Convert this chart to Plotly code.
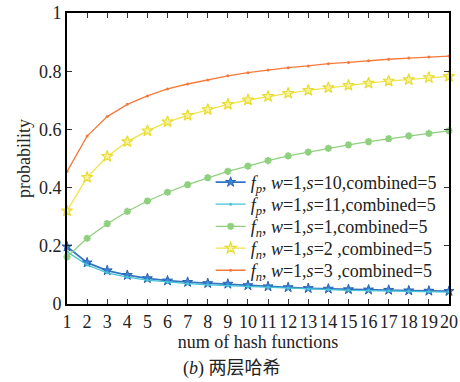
import plotly.graph_objects as go

x = list(range(1, 21))
fp_s10 = [0.197, 0.142, 0.115, 0.099, 0.088, 0.080, 0.075, 0.071, 0.069, 0.064,
          0.060, 0.057, 0.054, 0.052, 0.050, 0.049, 0.048, 0.046, 0.045, 0.044]
fp_s11 = [0.180, 0.134, 0.107, 0.092, 0.082, 0.075, 0.070, 0.066, 0.063, 0.060,
          0.057, 0.054, 0.051, 0.049, 0.047, 0.046, 0.045, 0.043, 0.042, 0.041]
fn_s1 = [0.162, 0.226, 0.276, 0.318, 0.354, 0.384, 0.410, 0.434, 0.456, 0.474,
         0.493, 0.509, 0.522, 0.535, 0.547, 0.558, 0.568, 0.578, 0.586, 0.595]
fn_s2 = [0.320, 0.435, 0.507, 0.558, 0.595, 0.626, 0.648, 0.668, 0.686, 0.701,
         0.713, 0.724, 0.734, 0.743, 0.751, 0.759, 0.766, 0.771, 0.778, 0.782]
fn_s3 = [0.455, 0.577, 0.644, 0.686, 0.715, 0.739, 0.756, 0.770, 0.784, 0.795,
         0.804, 0.812, 0.818, 0.826, 0.830, 0.836, 0.841, 0.845, 0.849, 0.852]

names = [
    "<i>f</i><sub><i>p</i></sub>, <i>w</i>=1,<i>s</i>=10,combined=5",
    "<i>f</i><sub><i>p</i></sub>, <i>w</i>=1,<i>s</i>=11,combined=5",
    "<i>f</i><sub><i>n</i></sub>, <i>w</i>=1,<i>s</i>=1,combined=5",
    "<i>f</i><sub><i>n</i></sub>, <i>w</i>=1,<i>s</i>=2 ,combined=5",
    "<i>f</i><sub><i>n</i></sub>, <i>w</i>=1,<i>s</i>=3 ,combined=5",
]
xticks = [str(i) for i in x]
yticks = [0, 0.2, 0.4, 0.6, 0.8, 1]
ytext = ["0", "0.2", "0.4", "0.6", "0.8", "1"]

FONT = "Liberation Serif, Times New Roman, DejaVu Serif, Noto Sans CJK SC, serif"

legend_ids = ["legend", "legend2", "legend3", "legend4", "legend5"]

fig = go.Figure()
fig.add_trace(go.Scatter(x=x, y=fp_s10, name=names[0], mode="lines+markers",
                         line=dict(color="#3475c4", width=1.8),
                         marker=dict(symbol="star", size=7.5, color="#3a86d8",
                                     line=dict(color="#2a62b0", width=1))))
fig.add_trace(go.Scatter(x=x, y=fp_s11, name=names[1], mode="lines+markers",
                         line=dict(color="#45c4d8", width=1.3),
                         marker=dict(symbol="circle", size=3, color="#45c4d8")))
fig.add_trace(go.Scatter(x=x, y=fn_s1, name=names[2], mode="lines+markers",
                         line=dict(color="#8fd07e", width=1.3),
                         marker=dict(symbol="asterisk", size=6, color="#8fd07e",
                                     line=dict(color="#8fd07e", width=2))))
fig.add_trace(go.Scatter(x=x, y=fn_s2, name=names[3], mode="lines+markers",
                         line=dict(color="#f0e44a", width=1.3),
                         marker=dict(symbol="star", size=8.5, color="#f8f3a0",
                                     line=dict(color="#e8dc30", width=1.2))))
fig.add_trace(go.Scatter(x=x, y=fn_s3, name=names[4], mode="lines+markers",
                         line=dict(color="#f57a3a", width=1.3),
                         marker=dict(symbol="circle", size=3, color="#f57a3a")))

for tr, lid in zip(fig.data, legend_ids):
    tr.cliponaxis = False
    tr.legend = lid

fig.update_layout(
    width=460, height=382,
    margin=dict(l=67, r=11, t=13, b=78),
    paper_bgcolor="white", plot_bgcolor="white",
    font=dict(family=FONT, size=18, color="#222"),
    showlegend=True,
    xaxis=dict(range=[1, 20], tickvals=x, ticktext=xticks, tickangle=0,
               ticks="inside", ticklen=5, tickcolor="#333", automargin=False,
               showline=True, linecolor="black", linewidth=2, mirror="ticks",
               showgrid=False, zeroline=False,
               tickfont=dict(family=FONT, size=18),
               title=dict(text="num of hash functions", standoff=4,
                          font=dict(family=FONT, size=18))),
    yaxis=dict(range=[0, 1], tickvals=yticks, ticktext=ytext,
               ticks="inside", ticklen=5, tickcolor="#333", automargin=False,
               showline=True, linecolor="black", linewidth=2, mirror="ticks",
               showgrid=False, zeroline=False,
               tickfont=dict(family=FONT, size=18),
               title=dict(text="probability", standoff=4,
                          font=dict(family=FONT, size=18))),
)

legend_y = [0.418, 0.342, 0.266, 0.191, 0.115]
for lid, ly in zip(legend_ids, legend_y):
    fig.update_layout({lid: dict(x=0.376, y=ly, xanchor="left", yanchor="middle",
                                 bgcolor="rgba(255,255,255,0)", borderwidth=0,
                                 font=dict(family=FONT, size=18, color="#222"),
                                 itemwidth=30)})

fig.add_annotation(text="(<i>b</i>) 两层哈希", xref="paper", yref="paper",
                   x=0.432, y=-0.178, xanchor="center", yanchor="top",
                   showarrow=False, font=dict(family=FONT, size=18, color="#222"))

fig.write_html("out.html", config={"displayModeBar": False},
               post_script="document.body.style.margin='0';document.body.style.overflow='hidden';")
